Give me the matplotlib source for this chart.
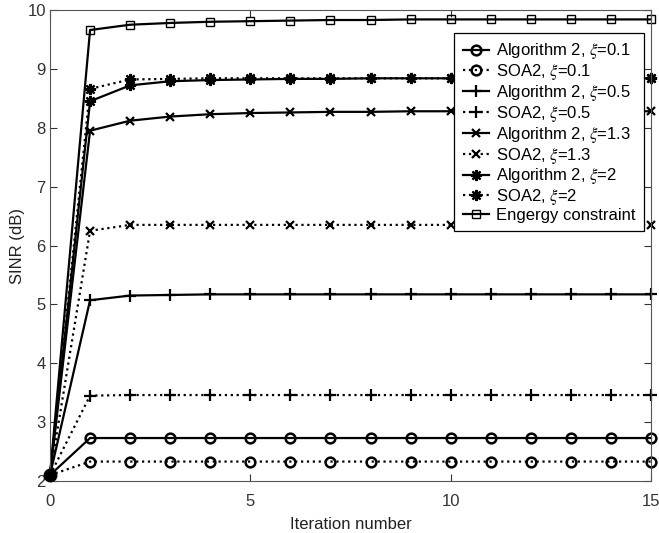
import numpy as np
import matplotlib
matplotlib.use('Agg')
import matplotlib.pyplot as plt

plt.rcParams['font.family'] = ['Liberation Sans', 'DejaVu Sans']
plt.rcParams['mathtext.fontset'] = 'stix'

# iteration index
iters = list(range(16))

# SINR (dB) values
alg_01 = [2.1, 2.73, 2.73, 2.73, 2.73, 2.73, 2.73, 2.73, 2.73, 2.73, 2.73, 2.73, 2.73, 2.73, 2.73, 2.73]
soa_01 = [2.1, 2.33, 2.33, 2.33, 2.33, 2.33, 2.33, 2.33, 2.33, 2.33, 2.33, 2.33, 2.33, 2.33, 2.33, 2.33]
alg_05 = [2.1, 5.07, 5.15, 5.16, 5.17, 5.17, 5.17, 5.17, 5.17, 5.17, 5.17, 5.17, 5.17, 5.17, 5.17, 5.17]
soa_05 = [2.1, 3.45, 3.46, 3.46, 3.46, 3.46, 3.46, 3.46, 3.46, 3.46, 3.46, 3.46, 3.46, 3.46, 3.46, 3.46]
alg_13 = [2.1, 7.95, 8.12, 8.19, 8.23, 8.25, 8.26, 8.27, 8.27, 8.28, 8.28, 8.28, 8.28, 8.28, 8.28, 8.28]
soa_13 = [2.1, 6.25, 6.35, 6.35, 6.35, 6.35, 6.35, 6.35, 6.35, 6.35, 6.35, 6.35, 6.35, 6.35, 6.35, 6.35]
alg_2 = [2.1, 8.45, 8.72, 8.79, 8.81, 8.82, 8.83, 8.83, 8.84, 8.84, 8.84, 8.84, 8.84, 8.84, 8.84, 8.84]
soa_2 = [2.1, 8.66, 8.82, 8.83, 8.84, 8.84, 8.84, 8.84, 8.84, 8.84, 8.84, 8.84, 8.84, 8.84, 8.84, 8.84]
energy = [2.1, 9.66, 9.75, 9.78, 9.80, 9.81, 9.82, 9.83, 9.83, 9.84, 9.84, 9.84, 9.84, 9.84, 9.84, 9.84]

fig = plt.figure(figsize=(6.59, 5.33), dpi=100)
ax = fig.add_axes([50/659, 1-481/533, 601/659, 471/533])

ast = (8, 2, 0)  # MATLAB-like asterisk
kw = dict(color='black', markerfacecolor='none', markeredgecolor='black', lw=1.6, clip_on=False)
ax.plot(iters, alg_01, '-', marker='o', ms=7, mew=1.8, label=r'Algorithm 2, $\xi$=0.1', **kw)
ax.plot(iters, soa_01, ':', marker='o', ms=7, mew=1.8, label=r'SOA2, $\xi$=0.1', **kw)
ax.plot(iters, alg_05, '-', marker='+', ms=8, mew=1.6, label=r'Algorithm 2, $\xi$=0.5', **kw)
ax.plot(iters, soa_05, ':', marker='+', ms=8, mew=1.6, label=r'SOA2, $\xi$=0.5', **kw)
ax.plot(iters, alg_13, '-', marker='x', ms=6, mew=1.6, label=r'Algorithm 2, $\xi$=1.3', **kw)
ax.plot(iters, soa_13, ':', marker='x', ms=6, mew=1.6, label=r'SOA2, $\xi$=1.3', **kw)
ax.plot(iters, alg_2, '-', marker=ast, ms=8, mew=1.6, label=r'Algorithm 2, $\xi$=2', **kw)
ax.plot(iters, soa_2, ':', marker=ast, ms=8, mew=1.6, label=r'SOA2, $\xi$=2', **kw)
ax.plot(iters, energy, '-', marker='s', ms=5.5, mew=1.0, label='Engergy constraint', **kw)
ax.plot([iters[0]], [energy[0]], 'o', color='black', ms=9, clip_on=False, zorder=5)

ax.set_xlim(0, 15)
ax.set_ylim(2, 10)
ax.set_xticks([0, 5, 10, 15])
ax.set_yticks(range(2, 11))
ax.tick_params(direction='in', top=True, right=True, labelsize=12, colors='#333333', length=5)
ax.tick_params(axis='x', pad=9)
ax.tick_params(axis='y', pad=3)
for s in ax.spines.values():
    s.set_color('#555555')
    s.set_linewidth(0.8)
ax.set_xlabel('Iteration number', fontsize=12, color='#222222', labelpad=6)
ax.set_ylabel('SINR (dB)', fontsize=12, color='#222222', labelpad=2)

leg = ax.legend(loc='upper right', bbox_to_anchor=(0.988, 0.951), borderaxespad=0,
                fontsize=12, handlelength=1.6, handletextpad=0.4, labelspacing=0.05,
                borderpad=0.5, fancybox=False, edgecolor='black', framealpha=1)
leg.get_frame().set_linewidth(0.9)
leg.set_zorder(10)

fig.savefig('out.png', dpi=100)
